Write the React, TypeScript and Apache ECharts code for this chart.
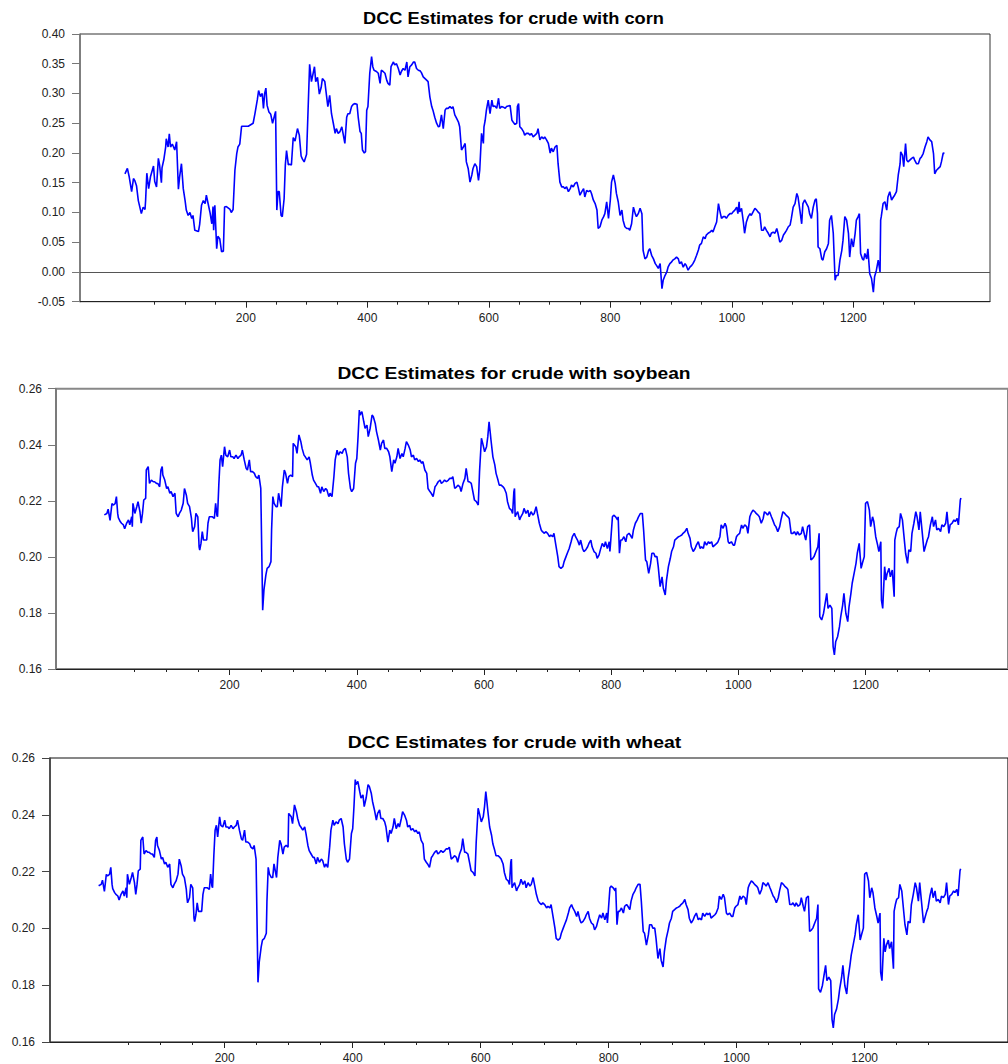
import React, { useEffect, useRef } from "react";
import * as echarts from "echarts";

const chartTitles = [
  "DCC Estimates for crude with corn",
  "DCC Estimates for crude with soybean",
  "DCC Estimates for crude with wheat",
];
const xLabelTicks = [200, 400, 600, 800, 1000, 1200];
const xMinorTicks = [50, 100, 150, 250, 300, 350, 450, 500, 550, 650, 700, 750, 850, 900, 950, 1050, 1100, 1150, 1250, 1300];

const cornSeries: [number, number][] = [
  [1,0.165],[5,0.174],[8,0.16],[12,0.135],[15,0.157],[17,0.154],[20,0.145],[23,0.12],[28,0.098],[31,0.109],[34,0.105],[35,0.12],[37,0.166],[40,0.14],[43,0.16],[46,0.171],[48,0.178],[50,0.152],[53,0.143],[56,0.191],[58,0.18],[61,0.15],[62,0.175],[65,0.189],[68,0.21],[69,0.224],[72,0.21],[74,0.232],[76,0.21],[79,0.215],[83,0.205],[86,0.219],[89,0.139],[91,0.16],[94,0.182],[97,0.14],[100,0.12],[102,0.104],[105,0.095],[108,0.1],[111,0.09],[113,0.095],[116,0.07],[122,0.068],[124,0.08],[127,0.112],[130,0.12],[133,0.115],[135,0.129],[141,0.1],[144,0.081],[146,0.11],[147,0.07],[149,0.112],[152,0.039],[154,0.06],[157,0.056],[160,0.034],[163,0.035],[165,0.109],[168,0.11],[174,0.105],[176,0.1],[179,0.105],[182,0.171],[185,0.199],[187,0.21],[190,0.215],[193,0.245],[198,0.245],[204,0.245],[212,0.25],[215,0.266],[219,0.29],[221,0.305],[224,0.295],[227,0.3],[229,0.275],[231,0.3],[233,0.309],[235,0.28],[238,0.269],[241,0.265],[244,0.25],[248,0.266],[249,0.27],[251,0.104],[253,0.135],[255,0.135],[258,0.095],[260,0.093],[263,0.123],[265,0.18],[267,0.204],[270,0.18],[272,0.181],[275,0.18],[278,0.226],[281,0.22],[285,0.241],[288,0.23],[291,0.195],[293,0.19],[296,0.185],[300,0.198],[303,0.289],[305,0.349],[308,0.32],[313,0.345],[315,0.32],[318,0.327],[321,0.299],[324,0.31],[326,0.325],[330,0.32],[335,0.278],
  [338,0.297],[341,0.266],[344,0.25],[347,0.233],[349,0.241],[352,0.233],[355,0.236],[358,0.244],[360,0.233],[363,0.216],[366,0.26],[368,0.266],[371,0.266],[374,0.278],[377,0.282],[379,0.283],[383,0.282],[385,0.26],[388,0.236],[390,0.233],[392,0.205],[395,0.2],[397,0.202],[399,0.272],[401,0.278],[404,0.334],[407,0.362],[409,0.345],[411,0.339],[415,0.337],[418,0.334],[421,0.317],[423,0.339],[426,0.337],[429,0.334],[432,0.322],[434,0.317],[437,0.314],[439,0.345],[443,0.353],[445,0.348],[448,0.35],[451,0.342],[454,0.331],[456,0.337],[459,0.342],[462,0.339],[465,0.353],[467,0.328],[470,0.345],[473,0.348],[476,0.353],[478,0.353],[481,0.342],[484,0.339],[487,0.338],[489,0.335],[492,0.328],[495,0.325],[498,0.322],[500,0.32],[503,0.294],[506,0.278],[508,0.272],[511,0.26],[514,0.25],[517,0.244],[519,0.245],[522,0.264],[525,0.241],[528,0.272],[530,0.275],[533,0.275],[536,0.278],[539,0.275],[541,0.278],[544,0.264],[547,0.258],[550,0.252],[552,0.244],[555,0.205],[558,0.21],[561,0.216],[563,0.185],[566,0.174],[569,0.151],[572,0.163],[574,0.174],[577,0.182],[580,0.177],[583,0.154],[585,0.171],[588,0.233],[591,0.216],[592,0.244],[594,0.255],[596,0.272],[599,0.289],[602,0.266],[605,0.289],[607,0.278],[610,0.279],[613,0.275],[616,0.292],[618,0.275],[621,0.278],[624,0.277],[627,0.275],[629,0.278],[632,0.279],[635,0.28],[638,0.255],[640,0.252],[643,0.248],[646,0.25],[647,0.278],[649,0.283],[651,0.244],[654,0.241],[657,0.236],[659,0.23],[662,0.233],[665,0.233],[668,0.23],[670,0.233],[673,0.227],[676,0.23],[679,0.233],[681,0.241],[684,0.222],[687,0.227],[690,0.224],[692,0.227],[695,0.222],[698,0.216],[701,0.2],[703,0.208],[706,0.202],[709,0.21],[712,0.213],[714,0.182],[717,0.151],[720,0.143],[723,0.143],[725,0.14],[728,0.143],[731,0.135],[734,0.14],[736,0.146],[739,0.143],[742,0.149],[745,0.151],[747,0.143],[750,0.129],[753,0.135],[756,0.14],[758,0.126],[761,0.137],[764,0.135],[767,0.137],[769,0.132],[772,0.121],[775,0.115],[778,0.104],[780,0.073],[783,0.076],[786,0.087],[789,0.093],[791,0.098],[794,0.118],[797,0.09],[800,0.121],[802,0.151],[805,0.163],[808,0.149],[810,0.132],[813,0.118],[816,0.095],[819,0.104],[821,0.087],[824,0.076],[827,0.073],[830,0.073],[832,0.07],[835,0.081],[838,0.109],[841,0.098],[843,0.093],[846,0.098],[849,0.107],[852,0.098],[854,0.036],[857,0.022],[860,0.025],[863,0.036],[865,0.039],[868,0.028],[871,0.022],[874,0.014],[876,0.011],[879,0.006],[882,0.014],[885,-0.028],[887,-0.014],[890,-0.006],[893,0],[895,0.008],[898,0.014],
  [901,0.017],[903,0.02],[906,0.022],[909,0.025],[912,0.022],[914,0.014],[917,0.017],[920,0.008],[923,0.014],[925,0.011],[928,0.003],[931,0.008],[934,0.011],[936,0.014],[939,0.02],[942,0.028],[945,0.037],[947,0.045],[950,0.048],[953,0.059],[956,0.056],[958,0.062],[961,0.065],[964,0.067],[967,0.07],[969,0.067],[972,0.076],[975,0.084],[978,0.115],[980,0.104],[983,0.09],[986,0.093],[989,0.093],[991,0.09],[994,0.095],[997,0.098],[1000,0.098],[1002,0.101],[1005,0.104],[1008,0.109],[1010,0.098],[1012,0.118],[1013,0.101],[1016,0.107],[1019,0.084],[1021,0.065],[1024,0.084],[1027,0.093],[1030,0.098],[1032,0.095],[1035,0.101],[1038,0.107],[1041,0.104],[1043,0.101],[1046,0.098],[1049,0.07],[1052,0.07],[1054,0.076],[1057,0.07],[1060,0.065],[1063,0.059],[1065,0.065],[1068,0.067],[1071,0.065],[1074,0.073],[1076,0.065],[1079,0.05],[1082,0.053],[1085,0.062],[1087,0.065],[1090,0.07],[1093,0.076],[1096,0.079],[1098,0.09],[1101,0.109],[1104,0.115],[1107,0.132],[1109,0.126],[1112,0.104],[1115,0.081],[1117,0.115],[1120,0.121],[1123,0.115],[1126,0.109],[1128,0.098],[1131,0.09],[1134,0.109],[1137,0.121],[1139,0.123],[1141,0.098],[1142,0.042],[1145,0.039],[1148,0.022],[1150,0.02],[1153,0.034],[1156,0.039],[1159,0.048],[1161,0.087],[1164,0.095],[1167,0.065],[1170,-0.014],[1172,-0.006],[1175,-0.006],[1178,0.02],[1181,0.036],[1183,0.053],[1186,0.093],[1189,0.087],[1192,0.065],[1194,0.025],[1197,0.056],[1200,0.042],[1203,0.065],[1205,0.087],[1208,0.093],[1210,0.098],[1212,0.031],[1215,0.022],[1217,0.02],[1219,0.031],[1222,0.022],[1224,0.039],[1227,-0.003],[1230,-0.011],[1233,-0.034],[1235,-0.008],[1238,0.003],[1241,0.02],[1244,0],[1245,0.087],[1246,0.093],[1249,0.115],[1252,0.118],[1255,0.104],[1257,0.126],[1260,0.135],[1263,0.121],[1266,0.126],[1268,0.129],[1271,0.135],[1274,0.163],[1277,0.182],[1278,0.202],[1281,0.196],[1283,0.177],[1286,0.216],[1288,0.188],[1290,0.185],[1293,0.188],[1296,0.191],[1299,0.193],[1301,0.188],[1304,0.182],[1307,0.182],[1310,0.191],[1312,0.193],[1315,0.199],[1318,0.21],[1321,0.219],[1323,0.227],[1326,0.222],[1329,0.219],[1332,0.199],[1334,0.165],[1337,0.171],[1340,0.174],[1343,0.177],[1345,0.185],[1348,0.2],[1350,0.199],
];

const soybeanSeries: [number, number][] = [
  [3,0.215],[7,0.2155],[9,0.217],[12,0.213],[15,0.219],[17,0.2185],[20,0.219],[22,0.2215],[24,0.2155],[25,0.214],[28,0.2126],[30,0.212],[33,0.2114],[35,0.21],[38,0.212],[41,0.2132],[43,0.2114],[46,0.2143],[47,0.2108],[48,0.2191],[51,0.2155],[54,0.2179],[56,0.2197],[59,0.2161],[61,0.212],[63,0.2155],[65,0.2203],[68,0.2209],[69,0.231],[72,0.2322],[74,0.2262],[77,0.2274],[80,0.2268],[82,0.2268],[85,0.2262],[87,0.2262],[90,0.225],[92,0.231],[94,0.2322],[95,0.2292],[98,0.2274],[101,0.2244],[103,0.225],[106,0.2227],[108,0.2233],[111,0.2215],[114,0.2227],[116,0.2155],[119,0.2143],[121,0.2155],[124,0.2167],[127,0.2191],[129,0.2244],[132,0.222],[134,0.2191],[137,0.2179],[140,0.2137],[141,0.2108],[142,0.209],[145,0.2108],[147,0.2155],[150,0.2143],[152,0.2036],[153,0.2024],[155,0.2048],[157,0.209],[159,0.206],[162,0.206],[164,0.206],[166,0.212],[168,0.2143],[171,0.2143],[173,0.2143],[176,0.2137],[178,0.2191],[180,0.2149],[181,0.2143],[183,0.2256],[185,0.2346],[187,0.2363],[189,0.2322],[192,0.2393],[194,0.2363],[197,0.2357],[200,0.2381],[202,0.2357],[205,0.2357],[207,0.2351],[210,0.2363],[213,0.2351],[215,0.2357],[218,0.2363],[220,0.2381],[223,0.2346],[226,0.2316],[228,0.231],[231,0.2346],[233,0.2304],[236,0.2304],[239,0.2298],[241,0.2286],[244,0.228],[246,0.2292],[249,0.2244],[252,0.181],[254,0.1882],[257,0.1935],[259,0.1959],[262,0.1965],[265,0.1983],[266,0.2096],[268,0.2215],[270,0.2191],[273,0.2179],[275,0.2179],[277,0.2227],[279,0.2203],[281,0.2179],[283,0.225],[286,0.231],[288,0.2298],[291,0.2262],[293,0.2286],[296,0.2292],[299,0.2286],[300,0.2405],[304,0.2393],[306,0.2369],[309,0.2435],[312,0.2411],[314,0.2387],[317,0.2363],[319,0.2357],[322,0.2346],[325,0.2357],[327,0.2334],[330,0.2292],[332,0.2274],[335,0.2262],[338,0.225],[340,0.225],[343,0.2227],[345,0.225],[348,0.2233],[351,0.2244],[353,0.2239],
  [356,0.2215],[358,0.2227],[361,0.2215],[364,0.2286],[366,0.2346],[369,0.2381],[371,0.2363],[374,0.2375],[377,0.2369],[379,0.2381],[382,0.2387],[385,0.2357],[387,0.2298],[390,0.2244],[392,0.2233],[395,0.2244],[398,0.2334],[400,0.2351],[402,0.2429],[404,0.2524],[405,0.2506],[408,0.2518],[411,0.2482],[413,0.2459],[416,0.247],[418,0.2429],[421,0.2459],[424,0.2506],[426,0.25],[429,0.2476],[431,0.2447],[434,0.2417],[437,0.2381],[439,0.2405],[442,0.2417],[444,0.2387],[447,0.2387],[450,0.2375],[452,0.2357],[455,0.2304],[458,0.2346],[460,0.2334],[463,0.2357],[465,0.2387],[468,0.2351],[471,0.2369],[473,0.2357],[476,0.2387],[478,0.2411],[481,0.2399],[484,0.2381],[486,0.2357],[489,0.2363],[491,0.2346],[494,0.2351],[497,0.234],[499,0.2346],[502,0.2334],[504,0.234],[507,0.231],[510,0.2298],[512,0.2244],[515,0.2233],[517,0.2227],[520,0.2215],[523,0.225],[525,0.2256],[528,0.2268],[531,0.2274],[533,0.2262],[536,0.2268],[538,0.2274],[541,0.2268],[544,0.2274],[546,0.228],[549,0.228],[551,0.2286],[554,0.2244],[557,0.225],[559,0.2256],[562,0.225],[564,0.2233],[567,0.2262],[570,0.228],[572,0.2316],[575,0.2268],[577,0.2268],[580,0.2262],[583,0.2227],[585,0.2203],[588,0.2197],[591,0.2185],[593,0.2304],[596,0.2423],[598,0.2405],[601,0.2375],[604,0.2393],[606,0.2429],[608,0.2482],[610,0.244],[611,0.2417],[614,0.2357],[617,0.2328],[619,0.2298],[622,0.2274],[624,0.2256],[627,0.2256],[630,0.225],[632,0.2244],[635,0.2227],[637,0.2197],[640,0.2173],[643,0.2167],[645,0.2155],[647,0.2233],[648,0.2244],[649,0.2143],[650,0.2149],[653,0.2161],[656,0.2132],[658,0.2143],[661,0.2155],[663,0.2173],[666,0.2155],[669,0.2167],[671,0.2143],[674,0.2161],[677,0.2149],[679,0.2155],[682,0.2179],[684,0.2155],[687,0.212],[690,0.2096],[692,0.209],[695,0.2084],[697,0.209],[700,0.2084],[703,0.2072],[705,0.2078],[708,0.2072],[710,0.2084],[713,0.2042],[716,0.2001],[718,0.1965],[721,0.1959],[724,0.1965],[726,0.1983],[729,0.2001],[731,0.2013],[734,0.203],[737,0.2054],[739,0.2072],[742,0.2084],[744,0.2072],[747,0.206],[750,0.2042],[752,0.206],[755,0.203],[757,0.2019],[760,0.2025],[763,0.2036],[765,0.2048],[768,0.206],[770,0.2036],[773,0.2019],[776,0.2013],[778,0.1995],[781,0.2007],[783,0.2025],[786,0.2048],[789,0.2036],[791,0.2054],[794,0.203],[797,0.2054],[798,0.2019],[799,0.2048],[802,0.2143],[804,0.2149],[807,0.2143],[810,0.2132],[811,0.2143],[813,0.2013],[815,0.206],[817,0.206],[820,0.2072],[823,0.2054],[825,0.2078],[828,0.2084],[830,0.2078],[833,0.2066],[835,0.2096],[838,0.212],[841,0.2132],[843,0.2143],[846,0.2155],[849,0.2155],[851,0.2096],[854,0.1989],[856,0.1983],[859,0.1941],[862,0.1977],[864,0.2013],[867,0.2013],[869,0.2001],
  [872,0.2001],[874,0.1965],[877,0.1894],[880,0.1929],[882,0.1888],[885,0.1864],[887,0.1917],[890,0.1965],[893,0.1995],[895,0.2019],[898,0.2036],[900,0.206],[903,0.2066],[906,0.2072],[908,0.2074],[911,0.2078],[913,0.2084],[916,0.209],[919,0.2102],[921,0.2084],[924,0.2066],[926,0.2036],[929,0.2019],[932,0.203],[934,0.2042],[937,0.2054],[940,0.203],[942,0.2036],[945,0.203],[947,0.2054],[950,0.2042],[953,0.2054],[955,0.2048],[958,0.2054],[960,0.2036],[963,0.2042],[966,0.2048],[968,0.2054],[971,0.2072],[973,0.2114],[976,0.2102],[979,0.212],[981,0.2108],[984,0.2054],[986,0.2048],[989,0.2054],[992,0.2042],[994,0.2042],[997,0.2072],[999,0.2078],[1002,0.2084],[1005,0.2114],[1007,0.2102],[1010,0.2114],[1013,0.2108],[1015,0.2084],[1018,0.2143],[1020,0.2155],[1023,0.2167],[1026,0.2161],[1028,0.2155],[1031,0.2149],[1033,0.2143],[1036,0.212],[1039,0.2137],[1041,0.2161],[1044,0.2155],[1046,0.2149],[1049,0.2161],[1052,0.2143],[1054,0.2132],[1057,0.2114],[1059,0.2108],[1062,0.209],[1065,0.2108],[1067,0.2132],[1070,0.2161],[1073,0.2155],[1075,0.2149],[1078,0.2143],[1080,0.2137],[1083,0.2084],[1086,0.2084],[1088,0.209],[1091,0.2078],[1093,0.209],[1096,0.2078],[1099,0.2084],[1101,0.2108],[1104,0.2078],[1106,0.206],[1109,0.2108],[1112,0.2114],[1114,0.1989],[1117,0.1995],[1119,0.2001],[1122,0.2019],[1125,0.2036],[1127,0.2084],[1128,0.1787],[1131,0.1775],[1134,0.1799],[1136,0.1828],[1139,0.187],[1141,0.1816],[1144,0.1828],[1147,0.1816],[1149,0.168],[1151,0.165],[1153,0.1697],[1156,0.1715],[1159,0.1751],[1161,0.1787],[1164,0.1828],[1166,0.187],[1169,0.1799],[1172,0.1769],[1174,0.1822],[1177,0.187],[1179,0.1906],[1182,0.1941],[1185,0.1977],[1187,0.2013],[1190,0.2048],[1193,0.1959],[1195,0.1977],[1198,0.2001],[1200,0.2191],[1203,0.2197],[1206,0.2167],[1208,0.2108],[1211,0.2143],[1213,0.2126],[1216,0.2072],[1219,0.2042],[1221,0.2019],[1224,0.2054],[1225,0.1846],[1227,0.1816],[1230,0.1965],[1232,0.1917],[1234,0.1941],[1237,0.1959],[1239,0.1929],[1242,0.1953],[1245,0.1858],[1246,0.206],[1248,0.2084],[1250,0.2102],[1253,0.2108],[1255,0.2155],[1258,0.2132],[1260,0.2084],[1263,0.2013],[1266,0.1977],[1268,0.2025],[1271,0.2019],[1273,0.2084],[1276,0.212],[1279,0.2161],[1281,0.2143],[1284,0.2096],[1286,0.2161],[1289,0.209],[1292,0.2019],[1294,0.2036],[1297,0.206],[1299,0.2072],[1302,0.2114],[1305,0.2143],[1307,0.2108],[1310,0.2132],[1312,0.2096],[1315,0.2102],[1318,0.209],[1320,0.2114],[1323,0.2108],[1326,0.212],[1328,0.2161],[1331,0.2084],[1333,0.2114],[1336,0.212],[1339,0.2132],[1341,0.2126],[1344,0.2137],[1346,0.2114],[1349,0.2203],[1350,0.221],
];

// The wheat panel in the reference is drawn with the same path as the soybean panel.
const wheatSeries: [number, number][] = soybeanSeries.map((p) => [p[0], p[1]]);

const seriesList = [cornSeries, soybeanSeries, wheatSeries];
const yRanges = [
  { min: -0.05, max: 0.4, interval: 0.05 },
  { min: 0.16, max: 0.26, interval: 0.02 },
  { min: 0.16, max: 0.26, interval: 0.02 },
];

const FONT = 'Arial, "Liberation Sans", sans-serif';

export default function App() {
  const ref = useRef<HTMLDivElement>(null);
  useEffect(() => {
    document.body.style.margin = "0";
    const chart = echarts.init(ref.current!, undefined, { renderer: "svg" });

    const grids = [
      { left: 80, top: 34, width: 910, height: 267.7, borderColor: "#333", borderWidth: 1 },
      { left: 56, top: 388.7, width: 958, height: 280.3, borderColor: "#888", borderWidth: 2 },
      { left: 50, top: 758, width: 970, height: 284.3, borderColor: "#111", borderWidth: 1.2 },
    ];
    const xMin = -73;
    const xMaxs = [1425, 1424, 1424];
    const yAxisColors = ["#777", "#777", "#444"];
    const labelMargins = [15, 14, 15];
    const titlePos = [
      { x: 513.5, y: 18, sx: 1.073 },
      { x: 514, y: 373, sx: 1.13 },
      { x: 514.5, y: 742, sx: 1.144 },
    ];

    const option: any = {
      animation: false,
      backgroundColor: "#fff",
      grid: grids.map((g) => ({
        left: g.left,
        top: g.top,
        width: g.width,
        height: g.height,
        show: true,
        borderColor: g.borderColor,
        borderWidth: g.borderWidth,
        backgroundColor: "transparent",
        containLabel: false,
      })),
      xAxis: [
        ...grids.map((_, i) => ({
          type: "value",
          gridIndex: i,
          min: xMin,
          max: xMaxs[i],
          position: "bottom",
          axisLine: { show: true, onZero: false, lineStyle: { color: "#222", width: 1 } },
          axisTick: { show: true, customValues: xLabelTicks, length: 6, lineStyle: { color: "#222" } },
          axisLabel: {
            show: true,
            customValues: xLabelTicks,
            fontSize: 12,
            fontFamily: FONT,
            color: "#222",
            margin: 10,
            formatter: (v: number) => String(Math.round(v)),
          },
          splitLine: { show: false },
        })),
        ...grids.map((_, i) => ({
          type: "value",
          gridIndex: i,
          min: xMin,
          max: xMaxs[i],
          position: "bottom",
          axisLine: { show: false, onZero: false },
          axisTick: { show: true, customValues: xMinorTicks, length: 3, lineStyle: { color: "#222" } },
          axisLabel: { show: false },
          splitLine: { show: false },
        })),
      ],
      yAxis: grids.map((_, i) => ({
        type: "value",
        gridIndex: i,
        min: yRanges[i].min,
        max: yRanges[i].max,
        interval: yRanges[i].interval,
        axisLine: { show: true, onZero: false, lineStyle: { color: yAxisColors[i], width: 1.5 } },
        axisTick: { show: true, length: 8, lineStyle: { color: yAxisColors[i] } },
        axisLabel: {
          fontSize: 12,
          fontFamily: FONT,
          color: "#222",
          margin: labelMargins[i],
          formatter: (v: number) => v.toFixed(2),
        },
        splitLine: { show: false },
      })),
      series: seriesList.map((data, i) => ({
        type: "line",
        xAxisIndex: i,
        yAxisIndex: i,
        data,
        showSymbol: false,
        symbol: "none",
        lineStyle: { color: "#0000ff", width: 1.6 },
        z: 3,
        ...(i === 0
          ? {
              markLine: {
                silent: true,
                symbol: ["none", "none"],
                label: { show: false },
                lineStyle: { color: "#555", width: 1, type: "solid" },
                data: [{ yAxis: 0 }],
                z: 2,
              },
            }
          : {}),
      })),
      graphic: chartTitles.map((t, i) => ({
        type: "text",
        x: titlePos[i].x,
        y: titlePos[i].y,
        scaleX: titlePos[i].sx,
        scaleY: 1,
        style: {
          text: t,
          fontFamily: FONT,
          fontWeight: "bold",
          fontSize: 17,
          fill: "#000",
          textAlign: "center",
          textVerticalAlign: "middle",
        },
      })),
    };
    chart.setOption(option);
    return () => chart.dispose();
  }, []);
  return <div ref={ref} style={{ width: 1008, height: 1064 }} />;
}
